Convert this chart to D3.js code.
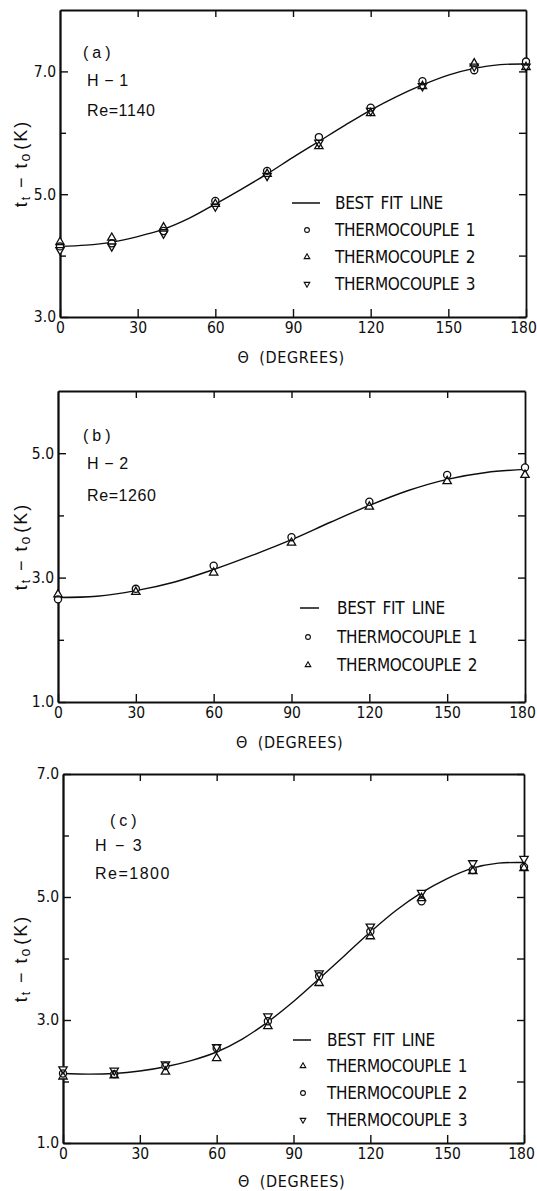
<!DOCTYPE html>
<html>
<head>
<meta charset="utf-8">
<script src="https://cdn.jsdelivr.net/npm/d3@7"></script>
<style>
  body { margin: 0; background: #fff; }
  svg { display: block; }
</style>
</head>
<body>
<svg id="chart" width="537" height="1191"></svg>
<script>
// ---- data ----
var xTicks = [0, 30, 60, 90, 120, 150, 180];

// panel (a) H-1, Re=1140
var a_deg = [0, 20, 40, 60, 80, 100, 120, 140, 160, 180];
var a_tc1 = [4.15, 4.20, 4.40, 4.89, 5.38, 5.93, 6.41, 6.84, 7.02, 7.16];  // circle
var a_tc2 = [4.22, 4.29, 4.46, 4.84, 5.33, 5.78, 6.32, 6.76, 7.13, 7.07];  // triangle up
var a_tc3 = [4.09, 4.15, 4.36, 4.80, 5.30, 5.84, 6.36, 6.76, 7.08, 7.08];  // triangle down
var a_fitDeg = [0, 10, 20, 30, 40, 50, 60, 70, 80, 90, 100, 110, 120, 130, 140, 150, 160, 170, 180];
var a_fit = [4.15, 4.17, 4.22, 4.31, 4.43, 4.61, 4.84, 5.08, 5.33, 5.60, 5.86, 6.12, 6.37, 6.59, 6.78, 6.94, 7.05, 7.11, 7.12];
var a_yMajor = [3, 5, 7];
var a_yMinor = [4, 6];

// panel (b) H-2, Re=1260
var b_deg = [0, 30, 60, 90, 120, 150, 180];
var b_tc1 = [2.65, 2.82, 3.19, 3.65, 4.22, 4.65, 4.77];  // circle
var b_tc2 = [2.73, 2.77, 3.08, 3.56, 4.14, 4.55, 4.65];  // triangle up
var b_fitDeg = [0, 15, 30, 45, 60, 75, 90, 105, 120, 135, 150, 165, 180];
var b_fit = [2.68, 2.70, 2.79, 2.93, 3.13, 3.36, 3.61, 3.89, 4.16, 4.40, 4.58, 4.69, 4.74];
var b_yMajor = [1, 3, 5];
var b_yMinor = [2, 4];

// panel (c) H-3, Re=1800
var c_deg = [0, 20, 40, 60, 80, 100, 120, 140, 160, 180];
var c_tc1 = [2.08, 2.10, 2.16, 2.38, 2.90, 3.60, 4.36, 4.98, 5.42, 5.47];  // triangle up
var c_tc2 = [2.13, 2.12, 2.25, 2.54, 2.98, 3.71, 4.44, 4.93, 5.44, 5.49];  // circle
var c_tc3 = [2.20, 2.18, 2.28, 2.56, 3.06, 3.76, 4.52, 5.07, 5.55, 5.62];  // triangle down
var c_fitDeg = [0, 10, 20, 30, 40, 50, 60, 70, 80, 90, 100, 110, 120, 130, 140, 150, 160, 170, 180];
var c_fit = [2.13, 2.12, 2.13, 2.17, 2.24, 2.34, 2.48, 2.69, 2.97, 3.30, 3.67, 4.05, 4.43, 4.78, 5.07, 5.30, 5.47, 5.55, 5.56];
var c_yMajor = [1, 3, 5, 7];
var c_yMinor = [2, 4, 6];

var FONT_N = "'DejaVu Sans Condensed', 'Liberation Sans', sans-serif";
var FONT = "'Liberation Sans', Arial, sans-serif";
var INK = '#0d0d0d';

var svg = d3.select('#chart');

function zip(xs, ys) {
	return xs.map(function (d, i) { return [d, ys[i]]; });
}

var symCircle = function (s) { return d3.symbol().type(d3.symbolCircle).size(s)(); };
var symTri = function (s) { return d3.symbol().type(d3.symbolTriangle).size(s * 0.75)(); };

function drawPanel(p) {
	var x = d3.scaleLinear().domain([0, 180]).range([p.left, p.right]);
	var y = d3.scaleLinear().domain(p.yDomain).range([p.bottom, p.top]);
	var g = svg.append('g').attr('class', 'panel');

	// frame + ticks (all ticks point inward)
	var xb = g.append('g').attr('transform', 'translate(0,' + p.bottom + ')')
		.call(d3.axisBottom(x).tickValues(xTicks).tickSizeInner(-8).tickSizeOuter(0).tickPadding(5));
	xb.selectAll('.tick text').filter(function (d) { return d === 180; }).attr('dx', -3);
	g.append('g').attr('transform', 'translate(0,' + p.top + ')')
		.call(d3.axisTop(x).tickValues(xTicks.slice(1, -1)).tickSizeInner(-7).tickSizeOuter(0).tickFormat(''));
	g.append('g').attr('transform', 'translate(' + p.left + ',0)')
		.call(d3.axisLeft(y).tickValues(p.yMajor).tickSizeInner(-8).tickSizeOuter(0).tickPadding(4)
			.tickFormat(d3.format('.1f')));
	g.append('g').attr('transform', 'translate(' + p.left + ',0)')
		.call(d3.axisLeft(y).tickValues(p.yMinor).tickSizeInner(-6).tickSizeOuter(0).tickFormat(''));
	g.append('g').attr('transform', 'translate(' + p.right + ',0)')
		.call(d3.axisRight(y).tickValues(p.yMajor.concat(p.yMinor)).tickSizeInner(-7).tickSizeOuter(0).tickFormat(''));

	g.selectAll('.domain').attr('stroke', INK).attr('stroke-width', 1.8);
	g.selectAll('.tick line').attr('stroke', INK).attr('stroke-width', 1.4);
	g.selectAll('.tick text').attr('fill', INK).style('font-family', FONT_N).style('font-size', '15.5px');

	// best fit line
	var line = d3.line()
		.x(function (d) { return x(d[0]); })
		.y(function (d) { return y(d[1]); })
		.curve(d3.curveCatmullRom.alpha(0.5));
	g.append('path')
		.datum(zip(p.fitDeg, p.fit))
		.attr('d', line)
		.attr('fill', 'none')
		.attr('stroke', INK)
		.attr('stroke-width', 1.4);

	// markers: white knock-out first, then outlines so overlaps stay visible
	function place(s) {
		return function (d) {
			return 'translate(' + x(d[0]) + ',' + y(d[1]) + ')' + (s.flip ? ' rotate(180)' : '');
		};
	}
	p.series.forEach(function (s) {
		g.append('g').selectAll('path')
			.data(zip(p.deg, s.values))
			.enter().append('path')
			.attr('d', s.path(40))
			.attr('transform', place(s))
			.attr('fill', '#fff').attr('stroke', 'none');
	});
	p.series.forEach(function (s) {
		g.append('g').selectAll('path')
			.data(zip(p.deg, s.values))
			.enter().append('path')
			.attr('d', s.path(40))
			.attr('transform', place(s))
			.attr('fill', 'none').attr('stroke', INK).attr('stroke-width', 1.3);
	});

	// legend
	var lg = g.append('g');
	lg.append('line')
		.attr('x1', p.legend.lineX[0]).attr('x2', p.legend.lineX[1])
		.attr('y1', p.legend.rows[0]).attr('y2', p.legend.rows[0])
		.attr('stroke', INK).attr('stroke-width', 1.5);
	var labels = ['BEST FIT LINE'].concat(p.series.map(function (s) { return s.name; }));
	labels.forEach(function (t, i) {
		lg.append('text')
			.attr('x', p.legend.textX).attr('y', p.legend.rows[i]).attr('dy', '0.36em')
			.style('font-family', FONT_N).style('font-size', '17px')
			.style('letter-spacing', '-0.3px').style('word-spacing', i === 0 ? '3px' : '2px')
			.attr('fill', INK).text(t);
	});
	p.legendOrder.forEach(function (s, i) {
		lg.append('path')
			.attr('d', s.path(18))
			.attr('transform', 'translate(' + p.legend.symX + ',' + p.legend.rows[i + 1] + ')' + (s.flip ? ' rotate(180)' : ''))
			.attr('fill', 'none').attr('stroke', INK).attr('stroke-width', 1.1);
	});

	// panel annotations
	p.notes.forEach(function (n) {
		g.append('text')
			.attr('x', n.x).attr('y', n.y)
			.style('font-family', FONT).style('font-size', '16px')
			.style('letter-spacing', n.ls || '0.6px')
			.attr('fill', INK).text(n.t);
	});

	// axis titles
	var xt = g.append('text')
		.attr('x', (p.left + p.right) / 2 - 2).attr('y', p.bottom + p.titleDy)
		.attr('text-anchor', 'middle')
		.style('font-family', FONT_N).style('font-size', '16px').style('letter-spacing', '0.6px')
		.attr('fill', INK);
	xt.append('tspan').text('\u0398');
	xt.append('tspan').attr('dx', 10).text('(DEGREES)');

	var yt = g.append('text')
		.attr('transform', 'translate(27,' + ((p.top + p.bottom) / 2) + ') rotate(-90)')
		.attr('text-anchor', 'middle')
		.style('font-family', FONT).style('font-size', '18px').style('letter-spacing', '2px')
		.attr('fill', INK);
	yt.append('tspan').text('t');
	yt.append('tspan').attr('baseline-shift', '-25%').style('font-size', '12px').text('t');
	yt.append('tspan').text(' \u2212 t');
	yt.append('tspan').attr('baseline-shift', '-20%').style('font-size', '14px').text('o');
	yt.append('tspan').attr('dx', 2).text('(K)');
}

var circ = { path: symCircle, flip: false };
var up = { path: symTri, flip: false };
var down = { path: symTri, flip: true };

drawPanel({
	left: 60, right: 526, top: 10, bottom: 317, yDomain: [3, 8], titleDy: 46,
	yMajor: a_yMajor, yMinor: a_yMinor,
	deg: a_deg, fitDeg: a_fitDeg, fit: a_fit,
	series: [
		{ name: 'THERMOCOUPLE 1', values: a_tc1, path: symCircle, flip: false },
		{ name: 'THERMOCOUPLE 2', values: a_tc2, path: symTri, flip: false },
		{ name: 'THERMOCOUPLE 3', values: a_tc3, path: symTri, flip: true }
	],
	legendOrder: [circ, up, down],
	legend: { lineX: [292, 320], symX: 307, textX: 335, rows: [203, 230, 257, 284] },
	notes: [
		{ x: 83, y: 58, t: '(a)', ls: '4px' },
		{ x: 87, y: 86, t: 'H \u2212 1' },
		{ x: 87, y: 116, t: 'Re=1140' }
	]
});

drawPanel({
	left: 58, right: 525, top: 391, bottom: 702, yDomain: [1, 6], titleDy: 46,
	yMajor: b_yMajor, yMinor: b_yMinor,
	deg: b_deg, fitDeg: b_fitDeg, fit: b_fit,
	series: [
		{ name: 'THERMOCOUPLE 1', values: b_tc1, path: symCircle, flip: false },
		{ name: 'THERMOCOUPLE 2', values: b_tc2, path: symTri, flip: false }
	],
	legendOrder: [circ, up],
	legend: { lineX: [300, 319], symX: 308, textX: 337, rows: [608, 637, 665] },
	notes: [
		{ x: 83, y: 441, t: '(b)', ls: '4px' },
		{ x: 87, y: 469, t: 'H \u2212 2' },
		{ x: 87, y: 501, t: 'Re=1260' }
	]
});

drawPanel({
	left: 63, right: 524, top: 774, bottom: 1143, yDomain: [1, 7], titleDy: 44,
	yMajor: c_yMajor, yMinor: c_yMinor,
	deg: c_deg, fitDeg: c_fitDeg, fit: c_fit,
	series: [
		{ name: 'THERMOCOUPLE 1', values: c_tc1, path: symTri, flip: false },
		{ name: 'THERMOCOUPLE 2', values: c_tc2, path: symCircle, flip: false },
		{ name: 'THERMOCOUPLE 3', values: c_tc3, path: symTri, flip: true }
	],
	legendOrder: [up, circ, down],
	legend: { lineX: [293, 311], symX: 303, textX: 327, rows: [1040, 1066, 1093, 1120] },
	notes: [
		{ x: 110, y: 826, t: '(c)', ls: '4px' },
		{ x: 95, y: 851, t: 'H \u2212 3', ls: '2px' },
		{ x: 95, y: 879, t: 'Re=1800', ls: '1.5px' }
	]
});
</script>
</body>
</html>
